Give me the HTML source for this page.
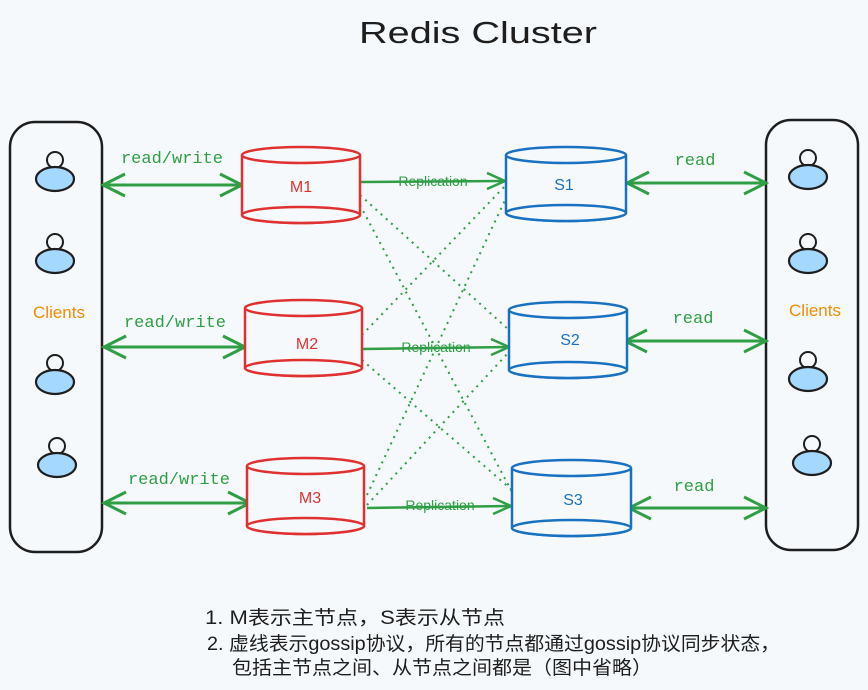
<!DOCTYPE html>
<html><head><meta charset="utf-8"><style>
body{margin:0;background:#f5f9fc;}
svg{display:block}
.m{font-family:"Liberation Mono",monospace;font-size:17px;fill:#2f9e44}
.h{font-family:"Liberation Sans","Noto Sans CJK SC",sans-serif}
</style></head><body>
<svg width="868" height="690" viewBox="0 0 868 690">
<defs>
<g id="u"><circle cx="0" cy="-14" r="8" fill="#f5f9fc" stroke="#1e1e1e" stroke-width="2"/><ellipse cx="0" cy="5" rx="19" ry="12" fill="#a5d8ff" stroke="#1e1e1e" stroke-width="2.2"/></g>
</defs>
<text x="478" y="43" text-anchor="middle" class="h" font-size="31" fill="#1e1e1e" textLength="238" lengthAdjust="spacingAndGlyphs">Redis Cluster</text>
<rect x="10" y="122" width="92" height="430" rx="25" fill="none" stroke="#1e1e1e" stroke-width="2.5"/>
<rect x="766" y="120" width="92" height="430" rx="25" fill="none" stroke="#1e1e1e" stroke-width="2.5"/>
<use href="#u" x="55" y="174"/><use href="#u" x="55" y="256"/><use href="#u" x="55" y="377"/><use href="#u" x="57" y="460"/>
<use href="#u" x="808" y="172"/><use href="#u" x="808" y="256"/><use href="#u" x="808" y="374"/><use href="#u" x="812" y="458"/>
<text x="59" y="318" text-anchor="middle" class="h" font-size="17" fill="#f08c00">Clients</text>
<text x="815" y="316" text-anchor="middle" class="h" font-size="17" fill="#f08c00">Clients</text>
<g stroke="#2f9e44" stroke-width="3" fill="none">
<line x1="103" y1="185" x2="242" y2="185"/><path d="M125 174L103 185L125 196M220 174L242 185L220 196"/>
<line x1="104" y1="347" x2="245" y2="347"/><path d="M126 336L104 347L126 358M223 336L245 347L223 358"/>
<line x1="104" y1="503" x2="250" y2="503"/><path d="M126 492L104 503L126 514M228 492L250 503L228 514"/>
<line x1="627" y1="183" x2="766" y2="183"/><path d="M649 172L627 183L649 194M744 172L766 183L744 194"/>
<line x1="625" y1="341" x2="766" y2="341"/><path d="M647 330L625 341L647 352M744 330L766 341L744 352"/>
<line x1="629" y1="508" x2="766" y2="508"/><path d="M651 497L629 508L651 519M744 497L766 508L744 519"/>
</g>
<g stroke="#2f9e44" stroke-width="2.5" fill="none">
<line x1="360" y1="182" x2="505" y2="181"/><path d="M487 173L505 181L487 189"/>
<line x1="362" y1="349" x2="509" y2="347"/><path d="M491 339L509 347L491 355"/>
<line x1="367" y1="508" x2="511" y2="506"/><path d="M493 498L511 506L493 514"/>
</g>
<g stroke="#2f9e44" stroke-width="2" stroke-dasharray="2 5" fill="none">
<line x1="360" y1="195" x2="509" y2="330"/><line x1="360" y1="205" x2="512" y2="492"/>
<line x1="362" y1="335" x2="506" y2="185"/><line x1="362" y1="360" x2="512" y2="490"/>
<line x1="367" y1="495" x2="506" y2="198"/><line x1="367" y1="505" x2="509" y2="352"/>
</g>
<g class="h" font-size="14" fill="#2f9e44" text-anchor="middle">
<text x="433" y="186">Replication</text><text x="436" y="352">Replication</text><text x="440" y="510">Replication</text>
</g>
<g class="m" text-anchor="middle">
<text x="172" y="163">read/write</text><text x="175" y="327">read/write</text><text x="179" y="484">read/write</text>
<text x="695" y="165">read</text><text x="693" y="323">read</text><text x="694" y="491">read</text>
</g>
<g fill="#f5f9fc" stroke-width="2.5">
<g stroke="#e03131"><path d="M242 155V215A59 8 0 0 0 360 215V155"/><ellipse cx="301" cy="155" rx="59" ry="8"/><ellipse cx="301" cy="215" rx="59" ry="8"/>
<path d="M245 308V368A58.5 8 0 0 0 362 368V308"/><ellipse cx="303.5" cy="308" rx="58.5" ry="8"/><ellipse cx="303.5" cy="368" rx="58.5" ry="8"/>
<path d="M247 466V526A58.5 8 0 0 0 364 526V466"/><ellipse cx="305.5" cy="466" rx="58.5" ry="8"/><ellipse cx="305.5" cy="526" rx="58.5" ry="8"/></g>
<g stroke="#1971c2"><path d="M506 155V213A60 8 0 0 0 626 213V155"/><ellipse cx="566" cy="155" rx="60" ry="8"/><ellipse cx="566" cy="213" rx="60" ry="8"/>
<path d="M509 310V370A59 8 0 0 0 627 370V310"/><ellipse cx="568" cy="310" rx="59" ry="8"/><ellipse cx="568" cy="370" rx="59" ry="8"/>
<path d="M512 468V528A59.5 8 0 0 0 631 528V468"/><ellipse cx="571.5" cy="468" rx="59.5" ry="8"/><ellipse cx="571.5" cy="528" rx="59.5" ry="8"/></g>
</g>
<g class="h" font-size="16" text-anchor="middle">
<text x="301" y="192" fill="#e03131">M1</text><text x="307" y="349" fill="#e03131">M2</text><text x="310" y="503" fill="#e03131">M3</text>
<text x="564" y="190" fill="#1971c2">S1</text><text x="570" y="345" fill="#1971c2">S2</text><text x="573" y="505" fill="#1971c2">S3</text>
</g>
<g class="h" font-size="19" fill="#1e1e1e">
<text x="205" y="624" textLength="300" lengthAdjust="spacingAndGlyphs">1. M表示主节点，S表示从节点</text>
<text x="207" y="650" textLength="573" lengthAdjust="spacingAndGlyphs">2. 虚线表示gossip协议，所有的节点都通过gossip协议同步状态，</text>
<text x="232" y="674" textLength="420" lengthAdjust="spacingAndGlyphs">包括主节点之间、从节点之间都是（图中省略）</text>
</g>
</svg>
</body></html>
